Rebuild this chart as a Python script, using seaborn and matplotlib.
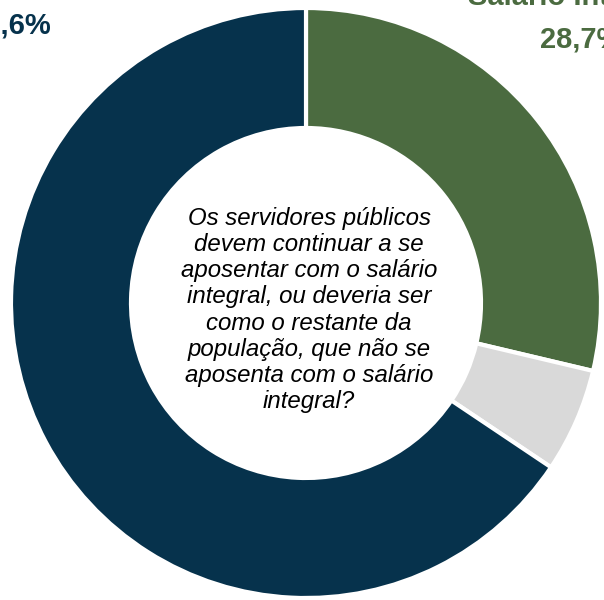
import matplotlib.pyplot as plt
import seaborn as sns

# Data
categories = ["Salário Integral", "Não sabe", "Como o restante da população"]
shares = [28.7, 5.7, 65.6]
colors = ["#4B6B40", "#D9D9D9", "#06324C"]
question = (
    "Os servidores públicos\n"
    "devem continuar a se\n"
    "aposentar com o salário\n"
    "integral, ou deveria ser\n"
    "como o restante da\n"
    "população, que não se\n"
    "aposenta com o salário\n"
    "integral?"
)

sns.set_style("white")
plt.rcParams["font.family"] = ["Liberation Sans", "DejaVu Sans"]

fig = plt.figure(figsize=(6.04, 6.0), dpi=100)
ax = fig.add_axes([0, 0, 1, 1])

# Donut
ax.pie(
    shares,
    colors=colors,
    startangle=90,
    counterclock=False,
    center=(306, 297),
    radius=295,
    frame=True,
    wedgeprops=dict(width=120, edgecolor="white", linewidth=3),
)
ax.set_xlim(0, 604)
ax.set_ylim(0, 600)
ax.set_aspect("equal")
ax.set_axis_off()

# Question in the hole
ax.text(309, 290, question, ha="center", va="center", fontsize=17.3,
        style="italic", linespacing=1.18, color="black")

# Labels (partly cut off at the edges like the original)
ax.text(52, 600 - 33, f"{shares[2]:.1f}%".replace(".", ","), ha="right",
        va="baseline", fontsize=21, fontweight="bold", color=colors[2])
ax.text(468, 600 - 5, categories[0], ha="left", va="baseline",
        fontsize=21, fontweight="bold", color=colors[0])
ax.text(540, 600 - 47, f"{shares[0]:.1f}%".replace(".", ","), ha="left",
        va="baseline", fontsize=21, fontweight="bold", color=colors[0])

fig.savefig("out.png", dpi=100)
